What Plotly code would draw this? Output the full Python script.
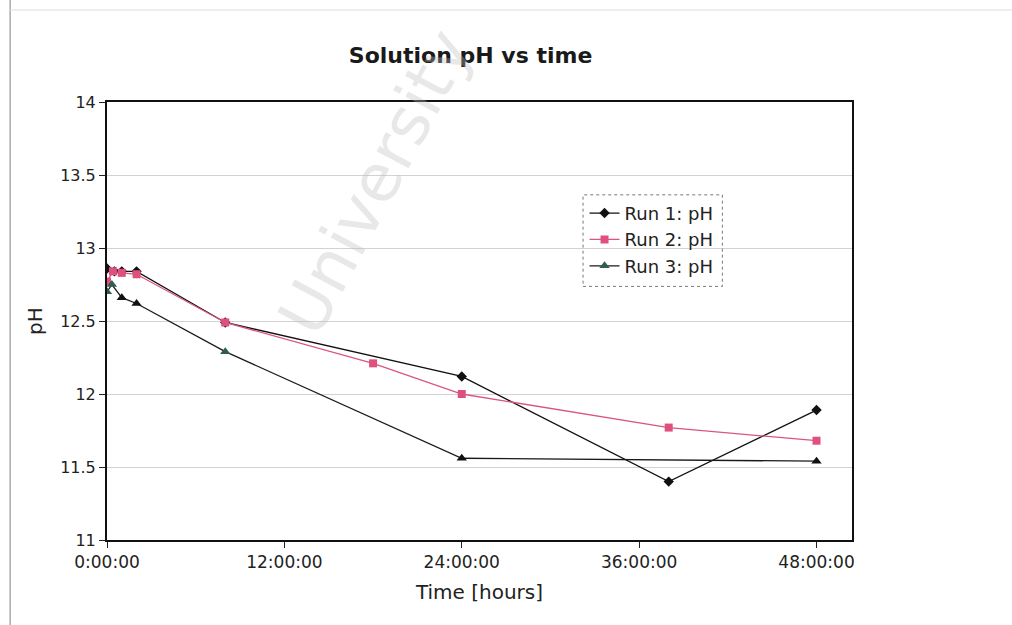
import plotly.graph_objects as go

# Data (time in hours, pH)
run1_t = [0, 0.5, 1, 2, 8, 24, 38, 48]
run1_ph = [12.86, 12.84, 12.84, 12.84, 12.49, 12.12, 11.40, 11.89]

run2_t = [0, 0.4, 1, 2, 8, 18, 24, 38, 48]
run2_ph = [12.77, 12.84, 12.83, 12.82, 12.49, 12.21, 12.00, 11.77, 11.68]

run3_t = [0, 0.33, 1, 2, 8, 24, 48]
run3_ph = [12.70, 12.75, 12.66, 12.62, 12.29, 11.56, 11.54]
run3_marker_colors = ["#2f5e50", "#2f5e50", "#111111", "#111111", "#2f5e50", "#111111", "#111111"]

x_tickvals = [0, 12, 24, 36, 48]
x_ticktext = ["0:00:00", "12:00:00", "24:00:00", "36:00:00", "48:00:00"]
y_tickvals = [11, 11.5, 12, 12.5, 13, 13.5, 14]
y_ticktext = ["11", "11.5", "12", "12.5", "13", "13.5", "14"]

FONT = "DejaVu Sans"

fig = go.Figure()
fig.add_trace(go.Scatter(
    x=run1_t, y=run1_ph, name="Run 1: pH", mode="lines+markers",
    line=dict(color="#111111", width=1.3),
    marker=dict(symbol="diamond", size=8, color="#111111")))
fig.add_trace(go.Scatter(
    x=run2_t, y=run2_ph, name="Run 2: pH", mode="lines+markers",
    line=dict(color="#d9557f", width=1.3),
    marker=dict(symbol="square", size=8, color="#e0507c")))
fig.add_trace(go.Scatter(
    x=run3_t, y=run3_ph, name="Run 3: pH", mode="lines+markers",
    line=dict(color="#1a1a1a", width=1.3),
    marker=dict(symbol="triangle-up", size=9, color=run3_marker_colors)))

fig.update_layout(
    width=1012, height=625,
    paper_bgcolor="white", plot_bgcolor="white",
    margin=dict(l=107, r=160, t=102, b=85),
    font=dict(family=FONT, color="#222222", size=17),
    title=dict(text="<b>Solution pH vs time</b>", x=0.465, xanchor="center",
               y=0.912, yanchor="middle", font=dict(size=22, color="#1a1a1a", family=FONT)),
    showlegend=True,
    legend=dict(x=0.641, y=0.788, xanchor="left", yanchor="top",
                bgcolor="rgba(255,255,255,0)", borderwidth=0,
                font=dict(size=18, family=FONT), tracegroupgap=0, itemwidth=30),
    xaxis=dict(range=[0, 50.4], tickvals=x_tickvals, ticktext=x_ticktext,
               ticks="outside", ticklen=6, tickcolor="#222", showgrid=False,
               zeroline=False, showline=True, linecolor="#111", linewidth=2,
               mirror=True, tickfont=dict(size=17),
               title=dict(text="Time [hours]", font=dict(size=20), standoff=14)),
    yaxis=dict(range=[11, 14], tickvals=y_tickvals, ticktext=y_ticktext,
               ticks="outside", ticklen=6, tickcolor="#222",
               showgrid=True, gridcolor="#d2d2d2", gridwidth=1,
               zeroline=False, showline=True, linecolor="#111", linewidth=2,
               mirror=True, tickfont=dict(size=16),
               title=dict(text="pH", font=dict(size=20), standoff=12)),
)

# dotted legend frame
fig.add_shape(type="rect", xref="paper", yref="paper",
              x0=0.639, x1=0.826, y0=0.579, y1=0.788,
              line=dict(color="#777", width=1, dash="dot"))

# page frame lines of the scan
fig.add_shape(type="line", xref="paper", yref="paper", x0=-0.130, x1=-0.130,
              y0=-0.2, y1=1.25, line=dict(color="#aaaaaa", width=1.5))
fig.add_shape(type="line", xref="paper", yref="paper", x0=-0.132, x1=1.22,
              y0=1.21, y1=1.21, line=dict(color="#dddddd", width=1))

# faint watermark
fig.add_annotation(text="University", xref="paper", yref="paper",
                   x=0.36, y=1.2, textangle=-62, showarrow=False,
                   font=dict(size=66, color="rgba(190,190,190,0.35)", family=FONT))

fig.write_html("out.html")
